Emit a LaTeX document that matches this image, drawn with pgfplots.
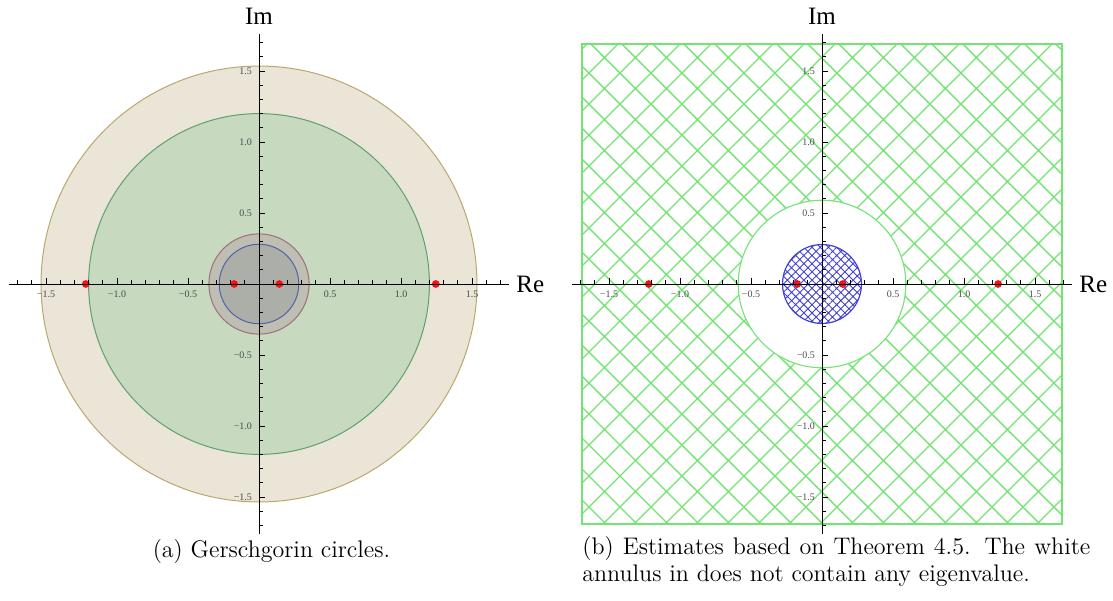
\documentclass[border=0pt]{standalone}
\usepackage{fontspec}
\newfontfamily\tms{Liberation Serif}
\usepackage{pgfplots}
\pgfplotsset{compat=1.18}
\usetikzlibrary{patterns.meta}
\definecolor{beigeF}{RGB}{234,229,214}
\definecolor{beigeD}{RGB}{185,168,110}
\definecolor{greenF}{RGB}{199,217,190}
\definecolor{greenD}{RGB}{95,160,115}
\definecolor{brownF}{RGB}{190,190,178}
\definecolor{brownD}{RGB}{160,110,125}
\definecolor{blueF}{RGB}{172,175,168}
\definecolor{blueD}{RGB}{85,95,170}
\definecolor{hgreen}{RGB}{115,228,115}
\definecolor{hblue}{RGB}{65,65,210}
\definecolor{dotred}{RGB}{250,15,15}
\pgfplotsset{cplane/.style={
  x=71pt,y=71pt,
  xmin=-1.76,xmax=1.76,ymin=-1.76,ymax=1.76,
  anchor=origin,
  axis lines=middle,
  axis line style={-,black,line width=0.45pt},
  every inner x axis line/.append style={-},
  every inner y axis line/.append style={-},
  xtick={-1.5,-1,-0.5,0,0.5,1,1.5},
  ytick={-1.5,-1,-0.5,0,0.5,1,1.5},
  xticklabels={−1.5,−1.0,−0.5,,0.5,1.0,1.5},
  yticklabels={−1.5,−1.0,−0.5,,0.5,1.0,1.5},
  minor xtick={-1.7,-1.6,-1.4,-1.3,-1.2,-1.1,-0.9,-0.8,-0.7,-0.6,-0.4,-0.3,-0.2,-0.1,0.1,0.2,0.3,0.4,0.6,0.7,0.8,0.9,1.1,1.2,1.3,1.4,1.6,1.7},
  minor ytick={-1.7,-1.6,-1.4,-1.3,-1.2,-1.1,-0.9,-0.8,-0.7,-0.6,-0.4,-0.3,-0.2,-0.1,0.1,0.2,0.3,0.4,0.6,0.7,0.8,0.9,1.1,1.2,1.3,1.4,1.6,1.7},
  tick align=inside,
  major tick length=3pt, minor tick length=2pt,
  tick style={black,line width=0.4pt},
  ticklabel style={font=\tms\fontsize{5}{6}\selectfont, text=black!70},
  clip=false,
  set layers, axis on top,
}}
\begin{document}
\begin{tikzpicture}
\path (0,0) rectangle (556.5pt,300pt);
% ---------- (a) ----------
\begin{axis}[cplane, at={(129.5pt,158pt)}]
\draw[draw=beigeD, fill=beigeF, line width=0.5pt] (axis cs:0,0) circle[radius=1.535];
\draw[draw=greenD, fill=greenF, line width=0.5pt] (axis cs:0,0) circle[radius=1.20];
\draw[draw=brownD, fill=brownF, line width=0.5pt] (axis cs:0,0) circle[radius=0.353];
\draw[draw=blueD, fill=blueF, line width=0.5pt] (axis cs:0,0) circle[radius=0.28];
\addplot[only marks, mark=*, mark size=1.7pt, mark options={draw=dotred, fill=dotred}, on layer=axis foreground] coordinates {(-1.22,0) (-0.175,0) (0.143,0) (1.245,0)};
\node[font=\tms\fontsize{12.5}{14}\selectfont, anchor=base, inner sep=0, yshift=5pt] at (axis cs:0,1.76) {Im};
\node[font=\tms\fontsize{12.5}{14}\selectfont, anchor=west, inner sep=0, xshift=3.5pt] at (axis cs:1.76,0) {Re};
\end{axis}
% ---------- (b) ----------
\begin{axis}[cplane, at={(411pt,158pt)}]
\draw[draw=hgreen, line width=0.8pt, pattern={Hatch[angle=45,distance=10.96pt,line width=0.7pt]}, pattern color=hgreen] (axis cs:-1.69,-1.69) rectangle (axis cs:1.69,1.69);
\draw[draw=hgreen, fill=white, line width=0.55pt] (axis cs:0,0) circle[radius=0.59];
\draw[draw=hblue, line width=0.6pt, pattern={Hatch[angle=45,distance=2.9pt,line width=0.45pt]}, pattern color=hblue] (axis cs:0,0) circle[radius=0.278];
\addplot[only marks, mark=*, mark size=1.7pt, mark options={draw=dotred, fill=dotred}, on layer=axis foreground] coordinates {(-1.22,0) (-0.174,0) (0.146,0) (1.24,0)};
\node[font=\tms\fontsize{12.5}{14}\selectfont, anchor=base, inner sep=0, yshift=5pt] at (axis cs:0,1.76) {Im};
\node[font=\tms\fontsize{12.5}{14}\selectfont, anchor=west, inner sep=0, xshift=3.5pt] at (axis cs:1.76,0) {Re};
\end{axis}
% ---------- captions ----------
\node[anchor=base, inner sep=0, font=\fontsize{12}{14}\selectfont] at (135.75pt,21.5pt) {(a) Gerschgorin circles.};
\node[anchor=base west, inner sep=0, font=\fontsize{12}{14}\selectfont] at (291pt,23pt) {\makebox[254pt][s]{(b) Estimates based on Theorem 4.5. The white}};
\node[anchor=base west, inner sep=0, font=\fontsize{12}{14}\selectfont] at (291pt,9.2pt) {annulus in does not contain any eigenvalue.};
\end{tikzpicture}
\end{document}
